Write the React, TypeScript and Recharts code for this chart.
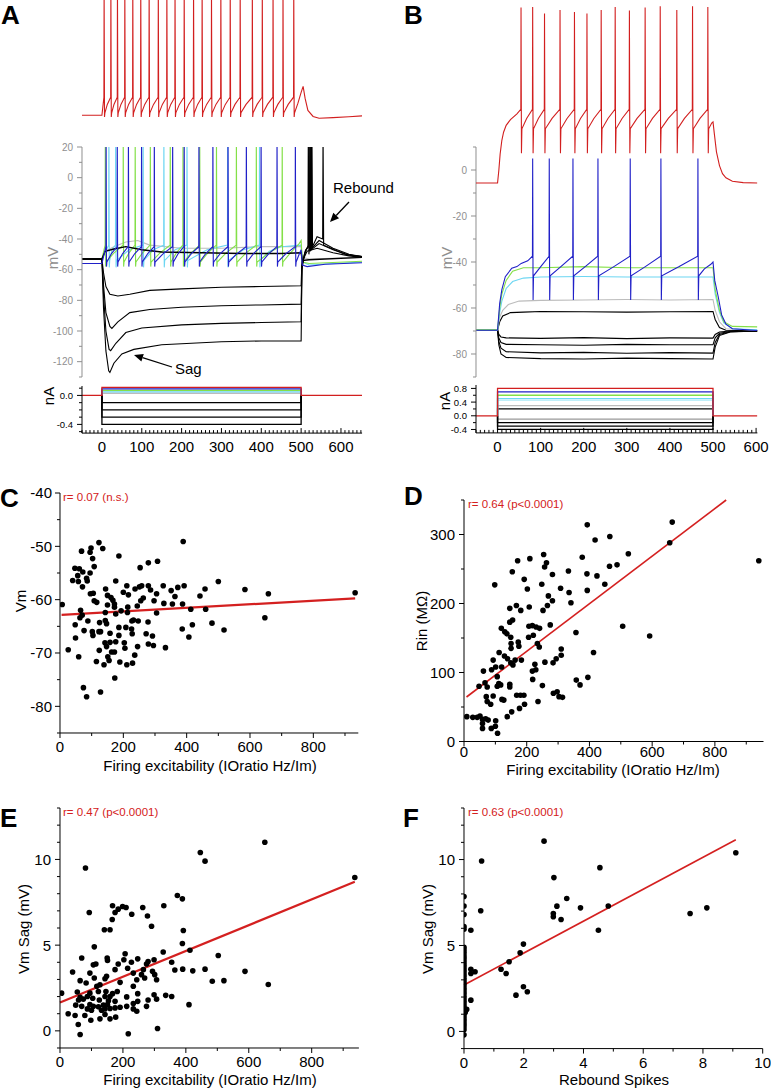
import React from 'react';
import { LineChart, Line, XAxis, YAxis, ScatterChart, Scatter, ReferenceLine } from 'recharts';

const FONT = '"Liberation Sans", Arial, Helvetica, sans-serif';
const RED = '#d21f1f';
const BLUE = '#2020c8';
const GREEN = '#84e048';
const CYAN = '#6cd6f2';
const GRAY = '#bcbcbc';
const AXGRAY = '#8f8f8f';
const FIT = '#d42020';

// ---------- Panel A (time in ms, Vm in mV) ----------
// top red trace, own scale
const aRedSpikes = [5, 22, 38.5, 57, 77, 97, 118, 141, 162.5, 183, 206, 229.5, 251, 274.5, 298, 321.5, 346.5, 377, 402, 429, 454, 481];
const aRedTail = [[492, -56], [500, -47], [505, -42], [510, -52], [517, -62], [530, -67], [545, -68.6], [580, -68], [620, -67.3], [653, -66.6]];

const aBlueSpikes = [10, 38, 66, 99, 131, 177, 206, 243, 278, 316, 362, 399, 439, 485];
const aBlueTail = [[495, -50], [500, -47], [503, -57], [515, -58], [560, -56.5], [653, -55.5]];
const aGreenSpikes = [8, 53, 83, 121, 171, 203, 245, 287, 337, 387, 452];
const aGreenTail = [[470, -50], [495, -43], [500, -41], [503, -55], [520, -56], [653, -54.5]];
const aCyanSpikes = [17, 34, 103, 155, 213, 315, 395];
const aCyanTail = [[420, -48], [450, -45], [500, -44], [503, -55], [520, -57], [653, -55]];

const aGray = [[-50, -53], [0, -53], [8, -48], [30, -45], [60, -42], [90, -41], [120, -44], [200, -46], [300, -46], [400, -45], [500, -45], [503, -52], [520, -53], [653, -52]];
const aBlackDep = [[-50, -53], [0, -53], [8, -48], [30, -46.5], [60, -45], [100, -47], [150, -48.5], [250, -49], [350, -49.5], [450, -49.5], [500, -49], [503, -54], [520, -53.5], [653, -52]];
const aHyp1 = [[-50, -53], [0, -53], [4, -62], [10, -71], [20, -76], [40, -77.2], [70, -76], [120, -73.5], [200, -72.5], [300, -71.5], [400, -71], [500, -70.5], [502, -55], [515, -48], [540, -46], [580, -49], [620, -51], [653, -52]];
const aHyp2 = [[-50, -53], [0, -53], [4, -70], [10, -88], [20, -97], [25, -98.3], [40, -94], [70, -88], [120, -86], [200, -84.5], [300, -83.5], [400, -83], [500, -82.5], [502, -57], [512, -47], [523, -44], [524, 30], [525.5, -47], [545, -43], [580, -47], [620, -50.5], [653, -51.5]];
const aHyp3 = [[-50, -53], [0, -53], [4, -76], [10, -100], [18, -112], [22, -112.8], [35, -108], [60, -101], [100, -98], [200, -96], [300, -95], [400, -94.5], [500, -94], [502, -58], [510, -48], [519, -44], [520, 30], [521.5, -48], [525, -44], [526, 30], [527.5, -46], [545, -41], [580, -46], [620, -50], [653, -51.5]];
const aHyp4 = [[-50, -53], [0, -53], [4, -85], [10, -113], [17, -126], [20, -127], [30, -121], [50, -115], [80, -112], [150, -109], [300, -107], [400, -106.5], [500, -106.5], [502, -60], [508, -50], [517, -45], [518, 30], [519.5, -50], [521, -45], [522, 30], [523.5, -48], [526, -44], [527, 30], [528.5, -45], [540, -38.5], [554, -40], [555, 30], [556.5, -44], [575, -46], [610, -50], [653, -51.5]];

// current steps (nA)
const aSteps = [
  { level: 0.03, color: GRAY },
  { level: 0.05, color: CYAN },
  { level: 0.07, color: GREEN },
  { level: 0.09, color: BLUE },
  { level: -0.1, color: '#000' },
  { level: -0.2, color: '#000' },
  { level: -0.3, color: '#000' },
  { level: -0.4, color: '#000' },
];
const aStepRed = 0.11;

// ---------- Panel B ----------
const bRedSpikes = [54, 81, 108.5, 144.5, 178, 207, 240, 272.5, 305.5, 342, 377, 415.5, 452, 487.5];
const bRedPeaks = [70.7, 71, 68.1, 69.7, 68.8, 68.1, 69.7, 71, 69.4, 70.7, 71.3, 69.7, 71.3, 71];
const bRedOnset = [[3, 0], [6, 7], [10, 13], [14, 16.5], [20, 19.5], [30, 22], [45, 24.5]];
const bRedTail = [[497, 20.5], [500, 21], [503, 16], [508, 8], [515, 2], [522, -1.5], [530, -3.3], [545, -4.8], [570, -5.4], [603, -5.6]];

const bBlueSpikes = [81, 119.5, 174.5, 232.5, 307.4, 378.6, 464.5];
const bBlueOnset = [[5, -58], [10, -52], [18, -46.4], [33, -42.7], [45, -42], [55, -40.6], [70, -39.5]];
const bBlueTail = [[480, -43], [495, -41], [500, -40], [504, -48], [512, -55], [520, -63], [530, -67], [545, -69], [603, -69.8]];

const bGreen = [[-50, -69.5], [0, -69.5], [5, -60], [10, -54], [20, -48], [35, -44], [60, -42.5], [100, -42.5], [200, -42], [300, -42.5], [400, -42.5], [500, -42.5], [505, -52], [515, -61], [525, -66], [545, -68], [603, -68.2]];
const bCyan = [[-50, -69.5], [0, -69.5], [5, -62], [10, -57], [20, -51.5], [35, -48.5], [60, -47], [100, -46.5], [200, -46.3], [300, -46.5], [400, -46.5], [500, -46.5], [505, -54], [515, -62], [525, -66.5], [545, -69], [603, -69.5]];
const bGray = [[-50, -69.5], [0, -69.5], [5, -64], [12, -61], [25, -58.5], [50, -57], [100, -56.7], [200, -56.5], [300, -56.3], [400, -56.5], [500, -56.3], [505, -61], [515, -66], [530, -69], [603, -69.6]];
const bBlackDep = [[-50, -69.6], [0, -69.6], [5, -66], [12, -63.5], [30, -62], [60, -61.8], [100, -61.5], [200, -61.6], [300, -61.8], [400, -61.6], [500, -61.5], [505, -65], [515, -68.5], [530, -69.7], [603, -70]];
const bHyp1 = [[-50, -69.6], [0, -69.6], [3, -71.5], [8, -72.6], [20, -73], [100, -73.2], [200, -72.9], [300, -73.3], [400, -73], [500, -73.1], [505, -71.5], [515, -70.4], [540, -70], [603, -70]];
const bHyp2 = [[-50, -69.6], [0, -69.6], [3, -73], [8, -75], [20, -75.8], [100, -76], [200, -76.2], [300, -75.8], [400, -76], [500, -76], [505, -73], [515, -71], [540, -70.2], [603, -70]];
const bHyp3 = [[-50, -69.6], [0, -69.6], [3, -74.5], [8, -77.5], [20, -79], [100, -79.5], [200, -79.3], [300, -79.7], [400, -79.4], [500, -79.6], [505, -75], [515, -71.5], [540, -70.3], [603, -70]];
const bHyp4 = [[-50, -69.6], [0, -69.6], [3, -76], [8, -80], [20, -81.5], [100, -82], [200, -82.2], [300, -81.8], [400, -82], [500, -82.2], [505, -77], [515, -72], [540, -70.4], [603, -70]];

const bSteps = [
  { level: -0.1, color: '#999' },
  { level: -0.2, color: '#000' },
  { level: -0.3, color: '#000' },
  { level: -0.4, color: '#000' },
  { level: 0.2, color: '#000' },
  { level: 0.3, color: GRAY },
  { level: 0.45, color: '#bfeef8' },
  { level: 0.5, color: CYAN },
  { level: 0.6, color: GREEN },
  { level: 0.7, color: BLUE },
];
const bStepRed = 0.8;

// ---------- Scatter panels ----------
const cPoints = [
  [123, -49.3], [389, -49.1], [135, -50.4], [98, -50.3], [95, -51.1], [68, -50.9], [186, -51.8], [103, -52.3], [308, -52.8], [279, -53.1],
  [108, -53.8], [253, -54.0], [47, -54.1], [61, -54.2], [72, -54.8], [95, -55.0], [56, -55.5], [84, -56.0], [40, -56.4], [58, -56.6],
  [86, -56.5], [71, -57.6], [96, -58.9], [105, -58.8], [108, -60.2], [116, -60.5], [144, -58.0], [150, -59.2], [161, -59.6], [167, -60.1],
  [172, -60.8], [172, -61.4], [176, -56.5], [200, -58.6], [211, -57.4], [216, -59.1], [214, -61.4], [213, -62.4], [237, -58.0], [244, -61.2],
  [251, -57.6], [258, -57.4], [255, -60.2], [263, -59.7], [279, -57.4], [286, -58.2], [297, -60.2], [305, -58.9], [305, -62.5], [326, -57.4],
  [328, -60.7], [351, -58.3], [355, -60.8], [363, -59.4], [372, -57.7], [392, -57.4], [387, -60.8], [413, -61.8], [442, -59.3], [458, -58.0],
  [460, -61.8], [500, -56.6], [584, -58.1], [658, -58.9], [932, -58.7], [7, -60.9], [65, -62.0], [70, -62.9], [63, -63.4], [48, -64.7],
  [88, -64.0], [125, -64.3], [143, -63.9], [147, -64.5], [143, -62.4], [176, -62.7], [227, -64.0], [247, -64.0], [278, -64.2], [418, -64.7],
  [480, -64.4], [647, -63.4], [76, -65.8], [49, -67.2], [102, -66.0], [104, -66.7], [123, -66.0], [128, -66.0], [158, -66.3], [158, -68.0],
  [186, -65.2], [186, -66.7], [208, -65.2], [226, -65.5], [228, -66.4], [272, -66.4], [292, -66.8], [386, -65.5], [407, -67.0], [518, -65.7],
  [142, -68.1], [147, -68.8], [176, -67.9], [203, -68.1], [205, -69.1], [245, -68.8], [279, -68.3], [295, -68.6], [333, -69.0], [26, -69.4],
  [124, -69.5], [163, -69.8], [172, -69.8], [59, -70.7], [115, -71.6], [151, -70.7], [155, -71.4], [139, -72.2], [189, -71.7], [211, -72.2],
  [229, -71.9], [236, -70.4], [173, -74.7], [74, -76.5], [84, -78.2], [128, -77.3], [150, -61.0], [193, -62.1], [232, -63.8],
];
const cFit = [[5, -62.85], [932, -59.75]];

const dPoints = [
  [664, 318], [656, 288], [393, 314], [465, 297], [418, 292], [524, 272], [377, 267], [254, 271], [210, 265], [171, 262],
  [940, 262], [263, 259], [488, 256], [464, 254], [257, 253], [154, 246], [333, 247], [424, 240], [392, 243], [282, 242],
  [192, 235], [449, 228], [248, 228], [98, 227], [308, 222], [335, 216], [202, 221], [393, 219], [269, 211], [282, 204],
  [341, 201], [252, 190], [167, 197], [181, 190], [208, 195], [146, 193], [266, 197], [146, 173], [155, 176], [119, 164],
  [130, 159], [137, 156], [506, 167], [592, 153], [207, 167], [218, 168], [230, 166], [241, 164], [206, 151], [221, 154],
  [149, 151], [150, 142], [173, 144], [175, 138], [150, 135], [234, 142], [240, 137], [357, 158], [275, 169], [413, 129],
  [93, 118], [62, 102], [88, 104], [112, 129], [129, 124], [120, 108], [139, 120], [149, 114], [163, 118], [183, 118],
  [156, 111], [218, 102], [229, 104], [226, 112], [258, 115], [284, 114], [294, 120], [310, 134], [310, 125],
  [9, 36], [28, 35], [51, 37], [42, 35], [59, 32], [59, 26], [69, 33], [77, 31], [87, 19], [100, 22],
  [107, 12], [101, 30], [59, 19], [101, 108], [106, 94], [67, 85], [74, 79], [48, 80], [71, 65], [74, 58],
  [85, 54], [93, 66], [106, 80], [111, 84], [117, 82], [121, 61], [127, 60], [146, 83], [146, 79], [138, 36],
  [152, 43], [168, 67], [180, 67], [191, 67], [177, 48], [193, 54], [219, 90], [250, 81], [236, 58], [285, 70],
  [297, 72], [303, 65], [314, 64], [358, 89], [370, 82], [395, 93],
];
const dFit = [[8, 64.5], [836, 350]];

const ePoints = [
  [651, 11.0], [446, 10.4], [461, 9.9], [81, 9.5], [937, 8.95], [373, 7.9], [389, 7.7], [167, 7.3], [199, 7.25], [210, 7.2],
  [185, 7.1], [175, 6.9], [330, 7.3], [263, 7.2], [93, 6.9], [228, 6.8], [278, 6.7], [166, 6.5], [291, 6.1], [141, 5.9],
  [159, 5.9], [392, 5.85], [389, 5.1], [413, 4.7], [109, 4.9], [328, 4.6], [207, 4.5], [503, 4.4], [69, 4.25], [150, 4.25],
  [151, 4.1], [247, 4.2], [203, 4.15], [299, 4.15], [280, 4.05], [355, 4.0], [114, 3.9], [106, 3.85], [185, 3.9], [227, 4.0],
  [275, 3.9], [215, 3.65], [461, 3.6], [390, 3.6], [365, 3.55], [422, 3.5], [588, 3.47], [40, 3.43], [175, 3.57], [233, 3.37],
  [294, 3.47], [265, 3.57], [259, 3.28], [301, 3.28], [95, 3.37], [148, 3.18], [143, 3.04], [109, 3.08], [269, 3.08], [307, 2.98],
  [64, 2.93], [484, 2.89], [521, 2.93], [662, 2.7], [191, 2.83], [244, 2.98], [83, 2.79], [127, 2.69], [117, 2.6], [233, 2.6],
  [5, 2.2], [55, 2.27], [95, 2.2], [122, 2.3], [146, 2.3], [167, 2.17], [182, 2.3], [64, 1.96], [87, 2.0], [104, 1.9],
  [143, 2.0], [159, 2.0], [212, 1.98], [247, 2.17], [299, 2.1], [336, 2.07], [355, 2.0], [59, 1.8], [74, 1.85], [125, 1.8],
  [154, 1.76], [175, 1.72], [280, 1.8], [307, 1.85], [247, 1.72], [233, 1.6], [50, 1.5], [69, 1.43], [95, 1.53], [106, 1.43],
  [122, 1.4], [138, 1.5], [151, 1.53], [175, 1.34], [191, 1.38], [212, 1.43], [275, 1.43], [410, 1.53], [87, 1.28], [100, 1.2],
  [132, 1.2], [143, 1.28], [159, 1.3], [233, 1.28], [244, 1.14], [79, 0.9], [26, 1.0], [48, 0.9], [98, 0.62], [127, 0.7],
  [143, 0.95], [159, 0.7], [177, 0.8], [58, 0.37], [64, -0.21], [217, -0.17], [310, 0.14],
];
const eFit = [[0, 1.65], [937, 8.7]];

const fPoints = [
  [2.68, 11.07], [9.1, 10.4], [0.59, 9.92], [4.55, 9.53], [3.01, 8.95], [3.44, 7.73], [3.11, 7.29], [3.9, 7.19], [4.83, 7.3], [8.13, 7.19],
  [7.57, 6.86], [2.99, 6.86], [2.99, 6.67], [3.25, 6.51], [0.56, 7.02], [4.5, 5.89], [0.23, 5.89], [1.99, 5.08], [1.88, 4.57], [1.51, 4.05],
  [1.24, 3.62], [1.41, 3.37], [0.23, 3.62], [0.37, 3.47], [0.23, 3.37], [1.99, 2.6], [2.12, 2.31], [1.74, 2.11], [0.23, 1.82], [0.09, 1.28],
  [0, 7.85], [0, 7.3], [0, 6.8], [0, 6.1], [0, 5.95], [0, 4.9], [0, 4.75], [0, 4.6], [0, 4.45], [0, 4.3],
  [0, 4.15], [0, 4.0], [0, 3.85], [0, 3.7], [0, 3.55], [0, 3.4], [0, 3.25], [0, 3.1], [0, 2.95], [0, 2.8],
  [0, 2.65], [0, 2.5], [0, 2.35], [0, 2.2], [0, 2.05], [0, 1.9], [0, 1.75], [0, 1.6], [0, 1.45], [0, 1.3],
  [0, 1.15], [0, 1.0], [0, 0.85], [0, 0.7], [0, 0.55], [0, 0.4], [0, 0.25], [0, 0.1], [0, -0.2], [0.04, 1.1],
];
const fFit = [[0, 2.7], [9.1, 11.15]];

// ---------- tick lists ----------
const aTimeMajors = [0, 100, 200, 300, 400, 500, 600];
const aTimeTicks = Array.from({ length: 71 }, (_, i) => -50 + i * 10);
const bTimeTicks = Array.from({ length: 66 }, (_, i) => -50 + i * 10);
const aVmTicks = [-130, -120, -110, -100, -90, -80, -70, -60, -50, -40, -30, -20, -10, 0, 10, 20];
const aVmMajors = [-120, -100, -80, -60, -40, -20, 0, 20];
const bVmTicks = [-90, -80, -70, -60, -50, -40, -30, -20, -10, 0, 10];
const bVmMajors = [-80, -60, -40, -20, 0];
const aNaTicks = [0.1, 0, -0.1, -0.2, -0.3, -0.4, -0.5];
const aNaMajors = [0, -0.4];
const bNaTicks = [0.8, 0.6, 0.4, 0.2, 0, -0.2, -0.4];
const bNaMajors = [0.8, 0.4, 0, -0.4];
const excitTicks = [0, 100, 200, 300, 400, 500, 600, 700, 800, 900];
const excitMajors = [0, 200, 400, 600, 800];
const cVmTicks = [-85, -80, -75, -70, -65, -60, -55, -50, -45, -40];
const cVmMajors = [-80, -70, -60, -50, -40];
const dRinTicks = [0, 50, 100, 150, 200, 250, 300, 350];
const dRinMajors = [0, 100, 200, 300];
const sagTicks = [-1, 0, 1, 2, 3, 4, 5, 6, 7, 8, 9, 10, 11, 12, 13];
const sagMajors = [0, 5, 10];
const reboundTicks = [0, 1, 2, 3, 4, 5, 6, 7, 8, 9, 10];
const reboundMajors = [0, 2, 4, 6, 8, 10];

// ---------- helpers ----------
type Pt = { t: number; v: number };
const toPts = (arr: number[][]): Pt[] => arr.map(([t, v]) => ({ t, v }));

type Train = {
  pre: number; onset: number[][]; spikes: number[]; thr: number; peak: number | number[];
  trough: number; after: number; mid: number; tail: number[][];
};
// spike train built from the read spike times and the trace's levels
function buildTrain(s: Train): Pt[] {
  const pts: Pt[] = [{ t: -50, v: s.pre }, { t: 0, v: s.pre }];
  s.onset.forEach(([t, v]) => pts.push({ t, v }));
  s.spikes.forEach((t, i) => {
    const pk = Array.isArray(s.peak) ? s.peak[i] : s.peak;
    pts.push({ t, v: s.thr }, { t: t + 0.5, v: pk }, { t: t + 1.5, v: s.trough }, { t: t + 2.5, v: s.after });
    const next = s.spikes[i + 1];
    if (next !== undefined) pts.push({ t: t + (next - t) * 0.5, v: s.mid });
  });
  s.tail.forEach(([t, v]) => pts.push({ t, v }));
  return pts;
}

function stepPts(level: number, end: number, withBase: boolean): Pt[] {
  const core = [{ t: 0, v: 0 }, { t: 0, v: level }, { t: 500, v: level }, { t: 500, v: 0 }];
  return withBase ? [{ t: -50, v: 0 }, ...core, { t: end, v: 0 }] : core;
}

const PL = 60, PT = 10, PR = 12, PB = 40;
type Rect = [number, number, number, number];
function frame([x0, y0, x1, y1]: Rect, hasY: boolean, hasX: boolean) {
  return {
    style: { position: 'absolute' as const, left: x0 - PL, top: y0 - PT },
    width: PL + (x1 - x0) + PR,
    height: PT + (y1 - y0) + PB,
    margin: { top: PT, right: PR, left: hasY ? 0 : PL, bottom: hasX ? 0 : PB },
  };
}

type TickSpec = { majors: number[]; fmt?: (v: number) => string; color?: string; fs?: number; off: number; len?: number; minLen?: number; inward?: boolean };
const isIn = (arr: number[], v: number) => arr.some((m) => Math.abs(m - v) < 1e-6);

function leftTick(s: TickSpec) {
  return (p: any) => {
    const v = p.payload.value;
    const major = isIn(s.majors, v);
    const len = major ? s.len ?? 5 : s.minLen ?? 3;
    const c = s.color ?? '#000';
    return (
      <g>
        <line x1={p.x} x2={p.x - len} y1={p.y} y2={p.y} stroke={c} strokeWidth={1} />
        {major ? (
          <text x={p.x - s.off} y={p.y} dy="0.36em" textAnchor="end" fill={c} fontSize={s.fs ?? 15} fontFamily={FONT}>
            {s.fmt ? s.fmt(v) : String(v)}
          </text>
        ) : null}
      </g>
    );
  };
}

function bottomTick(s: TickSpec) {
  return (p: any) => {
    const v = p.payload.value;
    const major = isIn(s.majors, v);
    const len = major ? s.len ?? 5 : s.minLen ?? 3;
    const dir = s.inward ? -1 : 1;
    const c = s.color ?? '#000';
    return (
      <g>
        <line x1={p.x} x2={p.x} y1={p.y} y2={p.y + dir * len} stroke={c} strokeWidth={1} />
        {major ? (
          <text x={p.x} y={p.y + s.off} textAnchor="middle" fill={c} fontSize={s.fs ?? 15} fontFamily={FONT}>
            {s.fmt ? s.fmt(v) : String(v)}
          </text>
        ) : null}
      </g>
    );
  };
}

const dot = (p: any) => <circle cx={p.cx} cy={p.cy} r={2.8} fill="#000" />;

function Arrow({ x1, y1, x2, y2 }: { x1: number; y1: number; x2: number; y2: number }) {
  const dx = x2 - x1, dy = y2 - y1, l = Math.hypot(dx, dy);
  const ux = dx / l, uy = dy / l, hl = 9, hw = 4;
  const bx = x2 - ux * hl, by = y2 - uy * hl;
  return (
    <g>
      <line x1={x1} y1={y1} x2={bx} y2={by} stroke="#000" strokeWidth={1.3} />
      <polygon points={`${x2},${y2} ${bx - uy * hw},${by + ux * hw} ${bx + uy * hw},${by - ux * hw}`} fill="#000" />
    </g>
  );
}

// ---------- built series ----------
const aRed = buildTrain({ pre: -66, onset: [], spikes: aRedSpikes, thr: -51, peak: 40, trough: -67.5, after: -64, mid: -57, tail: aRedTail });
const aBlue = buildTrain({ pre: -56, onset: [], spikes: aBlueSpikes, thr: -45, peak: 30, trough: -58, after: -55, mid: -49.5, tail: aBlueTail });
const aGreen = buildTrain({ pre: -53, onset: [], spikes: aGreenSpikes, thr: -44, peak: 30, trough: -58, after: -55, mid: -49, tail: aGreenTail });
const aCyan = buildTrain({ pre: -53, onset: [], spikes: aCyanSpikes, thr: -44, peak: 30, trough: -58.5, after: -54, mid: -47, tail: aCyanTail });

const bRed = buildTrain({ pre: -5.6, onset: bRedOnset, spikes: bRedSpikes, thr: 26.5, peak: bRedPeaks, trough: 7.4, after: 18, mid: 22.5, tail: bRedTail });
const bBlue = buildTrain({ pre: -69.7, onset: bBlueOnset, spikes: bBlueSpikes, thr: -37.5, peak: 5, trough: -56.5, after: -46, mid: -42, tail: bBlueTail });

const lineProps = { dot: false, isAnimationActive: false, strokeWidth: 1.1, dataKey: 'v', type: 'linear' as const };

// ---------- layout rects (page px) ----------
const A_TOP: Rect = [82, 0, 362.1, 120];
const A_MAIN: Rect = [82, 147, 362.1, 377];
const A_CUR: Rect = [82, 385.9, 362.1, 433];
const B_TOP: Rect = [476, 0, 757.4, 193.2];
const B_MAIN: Rect = [476, 147, 757.4, 377];
const B_CUR: Rect = [476, 385, 757.4, 432.9];
const C_R: Rect = [60, 493.3, 358.3, 733.3];
const D_R: Rect = [463.5, 499.8, 763, 741.3];
const E_R: Rect = [60, 808.3, 358.9, 1048.3];
const F_R: Rect = [464, 807.7, 762.7, 1048.3];

function TraceChart({ rect, xDomain, yDomain, showY, showX, yTicks, yTick, xTicks, xTick, yColor, children }: any) {
  const f = frame(rect, showY, showX);
  return (
    <div style={f.style}>
      <LineChart width={f.width} height={f.height} margin={f.margin}>
        <XAxis type="number" dataKey="t" domain={xDomain} allowDataOverflow hide={!showX} height={PB}
          ticks={xTicks} interval={0} tickSize={0} tickMargin={0} tick={xTick} axisLine={{ stroke: '#000' }} tickLine={false} />
        <YAxis type="number" domain={yDomain} allowDataOverflow hide={!showY} width={PL}
          ticks={yTicks} interval={0} tickSize={0} tickMargin={0} tick={yTick} axisLine={{ stroke: yColor ?? '#000' }} tickLine={false} />
        {children}
      </LineChart>
    </div>
  );
}

function ScatterPanel({ rect, xDomain, yDomain, points, fit, fitWidth, xTicks, xMajors, yTicks, yMajors, yOff, xOff }: any) {
  const f = frame(rect, true, true);
  return (
    <div style={f.style}>
      <ScatterChart width={f.width} height={f.height} margin={f.margin}>
        <XAxis type="number" dataKey="x" domain={xDomain} allowDataOverflow height={PB} ticks={xTicks} interval={0}
          tickSize={0} tickMargin={0} tickLine={false} axisLine={{ stroke: '#000' }} tick={bottomTick({ majors: xMajors, off: xOff })} />
        <YAxis type="number" dataKey="y" domain={yDomain} allowDataOverflow width={PL} ticks={yTicks} interval={0}
          tickSize={0} tickMargin={0} tickLine={false} axisLine={{ stroke: '#000' }} tick={leftTick({ majors: yMajors, off: yOff })} />
        <Scatter data={points.map(([x, y]: number[]) => ({ x, y }))} shape={dot} isAnimationActive={false} />
        <ReferenceLine segment={[{ x: fit[0][0], y: fit[0][1] }, { x: fit[1][0], y: fit[1][1] }]} stroke={FIT} strokeWidth={fitWidth} ifOverflow="visible" />
      </ScatterChart>
    </div>
  );
}

export default function App() {
  const aTimeTick = bottomTick({ majors: aTimeMajors, off: 19, inward: true });
  const aVmTick = leftTick({ majors: aVmMajors, off: 9, fs: 10, color: AXGRAY });
  const bVmTick = leftTick({ majors: bVmMajors, off: 9, fs: 10, color: AXGRAY });
  const aNaTick = leftTick({ majors: aNaMajors, off: 9, fs: 9.5, fmt: (v) => v.toFixed(1) });
  const bNaTick = leftTick({ majors: bNaMajors, off: 9, fs: 9.5, fmt: (v) => v.toFixed(1), minLen: 3 });

  return (
    <div style={{ position: 'absolute', left: 0, top: 0, width: 771, height: 1089, background: '#fff', fontFamily: FONT, overflow: 'hidden' }}>
      {/* Panel A */}
      <TraceChart rect={A_MAIN} xDomain={[-50, 653]} yDomain={[-130, 20]} showY showX={false} yTicks={aVmTicks} yTick={aVmTick} yColor={AXGRAY}>
        <Line data={toPts(aGray)} stroke={GRAY} {...lineProps} />
        <Line data={aCyan} stroke={CYAN} {...lineProps} />
        <Line data={aGreen} stroke={GREEN} {...lineProps} />
        <Line data={toPts(aHyp1)} stroke="#000" {...lineProps} />
        <Line data={toPts(aHyp2)} stroke="#000" {...lineProps} />
        <Line data={toPts(aHyp3)} stroke="#000" {...lineProps} />
        <Line data={toPts(aHyp4)} stroke="#000" {...lineProps} />
        <Line data={toPts(aBlackDep)} stroke="#000" {...lineProps} strokeWidth={1.4} />
        <Line data={aBlue} stroke={BLUE} {...lineProps} />
      </TraceChart>
      <TraceChart rect={A_TOP} xDomain={[-50, 653]} yDomain={[-70, 30]} showY={false} showX={false}>
        <Line data={aRed} stroke={RED} {...lineProps} />
      </TraceChart>
      <TraceChart rect={A_CUR} xDomain={[-50, 653]} yDomain={[-0.52, 0.13]} showY showX yTicks={aNaTicks} yTick={aNaTick} xTicks={aTimeTicks} xTick={aTimeTick}>
        {aSteps.map((s, i) => (
          <Line key={i} data={stepPts(s.level, 653, false)} stroke={s.color} {...lineProps} strokeWidth={1.3} />
        ))}
        <Line data={stepPts(aStepRed, 653, true)} stroke={RED} {...lineProps} strokeWidth={1.3} />
      </TraceChart>

      {/* Panel B */}
      <TraceChart rect={B_MAIN} xDomain={[-50, 603]} yDomain={[-90, 10]} showY showX={false} yTicks={bVmTicks} yTick={bVmTick} yColor={AXGRAY}>
        <Line data={toPts(bHyp1)} stroke="#000" {...lineProps} />
        <Line data={toPts(bHyp2)} stroke="#000" {...lineProps} />
        <Line data={toPts(bHyp3)} stroke="#000" {...lineProps} />
        <Line data={toPts(bHyp4)} stroke="#000" {...lineProps} />
        <Line data={toPts(bBlackDep)} stroke="#000" {...lineProps} />
        <Line data={toPts(bGray)} stroke={GRAY} {...lineProps} />
        <Line data={toPts(bCyan)} stroke={CYAN} {...lineProps} />
        <Line data={toPts(bGreen)} stroke={GREEN} {...lineProps} />
        <Line data={bBlue} stroke={BLUE} {...lineProps} />
      </TraceChart>
      <TraceChart rect={B_TOP} xDomain={[-50, 603]} yDomain={[-10, 74]} showY={false} showX={false}>
        <Line data={bRed} stroke={RED} {...lineProps} />
      </TraceChart>
      <TraceChart rect={B_CUR} xDomain={[-50, 603]} yDomain={[-0.5, 0.9]} showY showX yTicks={bNaTicks} yTick={bNaTick} xTicks={bTimeTicks} xTick={aTimeTick}>
        {bSteps.map((s, i) => (
          <Line key={i} data={stepPts(s.level, 603, false)} stroke={s.color} {...lineProps} strokeWidth={1.3} />
        ))}
        <Line data={stepPts(bStepRed, 603, true)} stroke={RED} {...lineProps} strokeWidth={1.3} />
      </TraceChart>

      {/* Scatter panels */}
      <ScatterPanel rect={C_R} xDomain={[0, 942]} yDomain={[-85, -40]} points={cPoints} fit={cFit} fitWidth={2.2}
        xTicks={excitTicks} xMajors={excitMajors} yTicks={cVmTicks} yMajors={cVmMajors} yOff={8} xOff={19} />
      <ScatterPanel rect={D_R} xDomain={[0, 955]} yDomain={[0, 350]} points={dPoints} fit={dFit} fitWidth={1.6}
        xTicks={excitTicks} xMajors={excitMajors} yTicks={dRinTicks} yMajors={dRinMajors} yOff={9} xOff={15} />
      <ScatterPanel rect={E_R} xDomain={[0, 950]} yDomain={[-1, 13]} points={ePoints} fit={eFit} fitWidth={2.2}
        xTicks={excitTicks} xMajors={excitMajors} yTicks={sagTicks} yMajors={sagMajors} yOff={9} xOff={19} />
      <ScatterPanel rect={F_R} xDomain={[0, 10]} yDomain={[-1, 13]} points={fPoints} fit={fFit} fitWidth={1.6}
        xTicks={reboundTicks} xMajors={reboundMajors} yTicks={sagTicks} yMajors={sagMajors} yOff={9} xOff={19} />

      {/* text and annotations */}
      <svg width={771} height={1089} style={{ position: 'absolute', left: 0, top: 0, pointerEvents: 'none' }} fontFamily={FONT}>
        <g fontSize={26} fontWeight="bold" fill="#000">
          <text x={1} y={24}>A</text>
          <text x={404} y={24}>B</text>
          <text x={0} y={507}>C</text>
          <text x={404} y={505}>D</text>
          <text x={0} y={827}>E</text>
          <text x={403} y={827}>F</text>
        </g>
        <g fontSize={15} textAnchor="middle" dominantBaseline="central">
          <text x={52} y={258} fill={AXGRAY} transform="rotate(-90 52 258)">mV</text>
          <text x={446} y={258} fill={AXGRAY} transform="rotate(-90 446 258)">mV</text>
          <text x={48} y={396} fill="#000" transform="rotate(-90 48 396)">nA</text>
          <text x={444} y={401} fill="#000" transform="rotate(-90 444 401)">nA</text>
          <text x={20} y={601} transform="rotate(-90 20 601)">Vm</text>
          <text x={421} y={621} transform="rotate(-90 421 621)">Rin (MΩ)</text>
          <text x={23} y={929} transform="rotate(-90 23 929)">Vm Sag (mV)</text>
          <text x={427} y={929} transform="rotate(-90 427 929)">Vm Sag (mV)</text>
        </g>
        <g fontSize={15} textAnchor="middle">
          <text x={210} y={771}>Firing excitability (IOratio Hz/Im)</text>
          <text x={613} y={775}>Firing excitability (IOratio Hz/Im)</text>
          <text x={210} y={1085}>Firing excitability (IOratio Hz/Im)</text>
          <text x={614} y={1085}>Rebound Spikes</text>
        </g>
        <g fontSize={11.5} fill={FIT}>
          <text x={63} y={501}>r= 0.07 (n.s.)</text>
          <text x={468} y={508}>r= 0.64 (p&lt;0.0001)</text>
          <text x={63} y={816}>r= 0.47 (p&lt;0.0001)</text>
          <text x={468} y={816}>r= 0.63 (p&lt;0.0001)</text>
        </g>
        <g fontSize={15}>
          <text x={333} y={193}>Rebound</text>
          <text x={175} y={374}>Sag</text>
        </g>
        <Arrow x1={349} y1={202} x2={330} y2={222} />
        <Arrow x1={172} y1={367} x2={134} y2={355} />
      </svg>
    </div>
  );
}
